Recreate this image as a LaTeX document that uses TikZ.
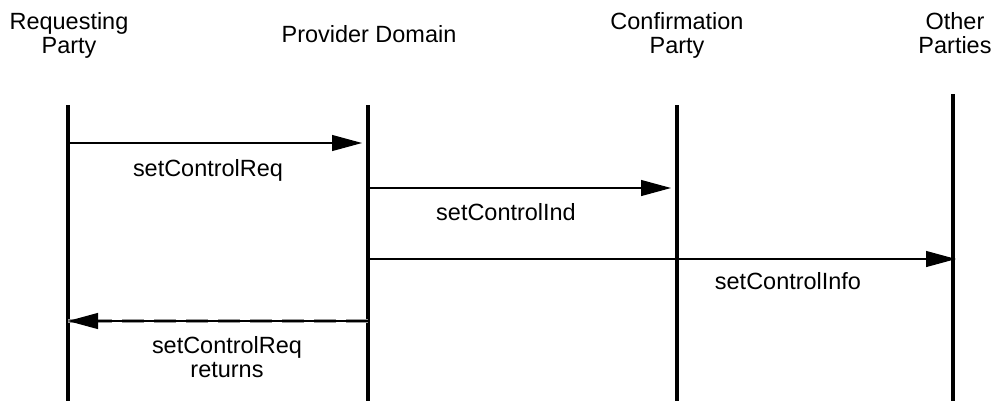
\documentclass[tikz,border=0pt]{standalone}
\usepackage{fontspec}
\setmainfont{Liberation Sans}
\usetikzlibrary{arrows.meta}
\tikzset{
  lifeline/.style={line width=2.4pt},
  msg/.style={line width=0.8pt, -{Triangle[length=22.5pt,width=12pt]}},
  retdash/.style={line width=2.6pt, draw=black!40, dash pattern=on 16.5pt off 7.5pt},
  lbl/.style={inner sep=0pt, anchor=base, align=center,
    font=\fontsize{17.6pt}{17.3pt}\selectfont},
}
\begin{document}
\begin{tikzpicture}[x=0.75pt,y=-0.75pt]
\useasboundingbox (0,0) rectangle (995,401);

% participant headings (base anchor sits on the last line)
\node[lbl] (hreq)  at (69,53)  {Requesting\\Party};
\node[lbl] (hprov) at (369,42) {Provider Domain};
\node[lbl] (hconf) at (677,53) {Confirmation\\Party};
\node[lbl] (hoth)  at (955,53) {Other\\Parties};

% lifelines
\coordinate (reqT)  at (68,105);  \coordinate (reqB)  at (68,401);
\coordinate (provT) at (368,105); \coordinate (provB) at (368,401);
\coordinate (confT) at (677,105); \coordinate (confB) at (677,401);
\coordinate (othT)  at (953,94);  \coordinate (othB)  at (953,401);
\draw[lifeline] (reqT) -- (reqB);
\draw[lifeline] (provT) -- (provB);
\draw[lifeline] (confT) -- (confB);
\draw[lifeline] (othT) -- (othB);

% message anchors on the lifelines
\coordinate (m1a) at (68,143);  \coordinate (m1b) at (362,143);
\coordinate (m2a) at (368,188); \coordinate (m2b) at (671,188);
\coordinate (m3a) at (368,259); \coordinate (m3b) at (956,259);
\coordinate (m4a) at (368,321); \coordinate (m4b) at (68,321);

% messages
\draw[msg] (m1a) -- (m1b);
\node[lbl] (l1) at (208,176) {setControlReq};

\draw[msg] (m2a) -- (m2b);
\node[lbl] (l2) at (506,220) {setControlInd};

\draw[msg] (m3a) -- (m3b);
\node[lbl] (l3) at (788,289) {setControlInfo};

% reply: grey dashes under a thin black line
\draw[retdash] (m4a) -- (m4b);
\draw[msg] (m4a) -- (m4b);
\node[lbl] (l4) at (227,377) {setControlReq\\returns};
\end{tikzpicture}
\end{document}
